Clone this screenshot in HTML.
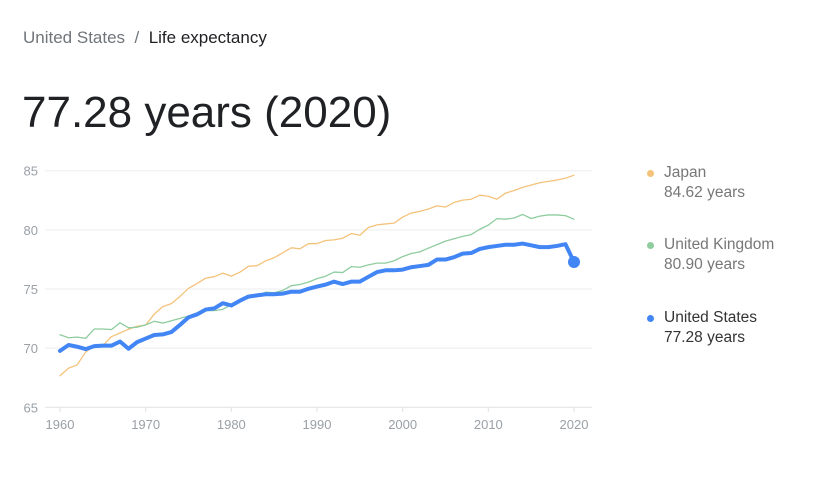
<!DOCTYPE html>
<html><head><meta charset="utf-8"><style>
body{margin:0;width:829px;height:496px;background:#fff;font-family:"Liberation Sans",sans-serif;overflow:hidden;position:relative}
.crumb{position:absolute;left:23px;top:28px;font-size:17px;color:#70757a}
.crumb .cur{color:#202124}
.big{position:absolute;left:22px;top:88px;font-size:44px;color:#202124}
.leg{position:absolute;left:664px;font-size:15.5px;line-height:20px;color:#777}
.leg .dot{position:absolute;left:-17px;top:7px;width:7px;height:7px;border-radius:50%}
</style></head><body>
<div class="crumb"><span>United States</span>&nbsp; / &nbsp;<span class="cur">Life expectancy</span></div>
<div class="big">77.28 years (2020)</div>
<svg id="chart" width="829" height="496" style="position:absolute;left:0;top:0"></svg>
<div class="leg" style="top:163px"><span class="dot" style="background:#f4c37b"></span>Japan<br>84.62 years</div>
<div class="leg" style="top:235px"><span class="dot" style="background:#8fcc9f"></span>United Kingdom<br>80.90 years</div>
<div class="leg" style="top:308px;color:#333"><span class="dot" style="background:#4285f4"></span>United States<br>77.28 years</div>
<script>
const startYear = 1960;
const yTicks = [65,70,75,80,85];
const xTicks = [1960,1970,1980,1990,2000,2010,2020];
const japan = [67.67,68.31,68.58,69.68,70.16,70.21,70.97,71.28,71.6,71.85,71.95,72.88,73.51,73.76,74.37,75.06,75.46,75.91,76.04,76.34,76.09,76.42,76.92,76.97,77.37,77.65,78.06,78.48,78.4,78.83,78.84,79.1,79.15,79.29,79.69,79.54,80.2,80.42,80.5,80.57,81.08,81.42,81.56,81.76,82.03,81.93,82.32,82.51,82.59,82.93,82.84,82.59,83.1,83.33,83.59,83.79,83.98,84.1,84.21,84.36,84.62];
const uk = [71.13,70.88,70.93,70.83,71.62,71.62,71.57,72.14,71.72,71.77,71.97,72.27,72.12,72.32,72.52,72.72,72.72,73.17,73.17,73.28,73.68,74.03,74.23,74.43,74.73,74.68,74.88,75.28,75.38,75.58,75.88,76.08,76.43,76.39,76.89,76.84,77.04,77.19,77.19,77.39,77.74,78.0,78.14,78.45,78.75,79.05,79.25,79.45,79.6,80.05,80.4,80.95,80.9,81.0,81.3,80.96,81.16,81.26,81.26,81.2,80.9];
const us = [69.77,70.27,70.12,69.92,70.17,70.21,70.21,70.56,69.95,70.51,70.81,71.11,71.16,71.36,71.96,72.6,72.86,73.26,73.36,73.8,73.61,74.01,74.36,74.46,74.56,74.56,74.61,74.77,74.77,75.02,75.21,75.37,75.62,75.42,75.62,75.62,76.03,76.43,76.58,76.58,76.64,76.84,76.94,77.04,77.49,77.49,77.69,77.99,78.04,78.39,78.54,78.64,78.74,78.74,78.84,78.69,78.54,78.54,78.64,78.79,77.28];
const svg = document.getElementById('chart');
const NS = 'http://www.w3.org/2000/svg';
function xs(yr){return 60 + (yr-1960)*(514/60);}
function ys(v){return 407.3 - (v-65)*(236.6/20);}
function mk(t,a){const e=document.createElementNS(NS,t);for(const k in a)e.setAttribute(k,a[k]);svg.appendChild(e);return e;}
yTicks.forEach(v=>{
  const l=mk('line',{x1:45,x2:592,y1:ys(v),y2:ys(v),stroke:v===65?'#e2e2e2':'#eeeeee','stroke-width':1});
  
  
  const t=mk('text',{x:38,y:ys(v)+5,'text-anchor':'end','font-size':13,fill:'#9aa0a6','font-family':'Liberation Sans, sans-serif'});
  t.textContent=v;
  
  
});
xTicks.forEach(yr=>{
  const k=mk('line',{x1:xs(yr),x2:xs(yr),y1:407,y2:412,stroke:'#e2e2e2'});
  
  
  const t=mk('text',{x:xs(yr),y:429,'text-anchor':'middle','font-size':13,fill:'#9aa0a6','font-family':'Liberation Sans, sans-serif'});
  t.textContent=yr;
  
  
});
function line(arr,color,w,name){
  const d=arr.map((v,i)=>(i?'L':'M')+xs(startYear+i).toFixed(2)+','+ys(v).toFixed(2)).join('');
  const p=mk('path',{d:d,fill:'none',stroke:color,'stroke-width':w,'stroke-linejoin':'round','stroke-linecap':'round'});
  
  
}
line(japan,'#f4c37b',1.3,'line-japan');
line(uk,'#8fcc9f',1.3,'line-uk');
line(us,'#4285f4',4,'line-us');
const c=mk('circle',{cx:xs(startYear+us.length-1),cy:ys(us[us.length-1]),r:6,fill:'#4285f4'});


</script>
</body></html>
